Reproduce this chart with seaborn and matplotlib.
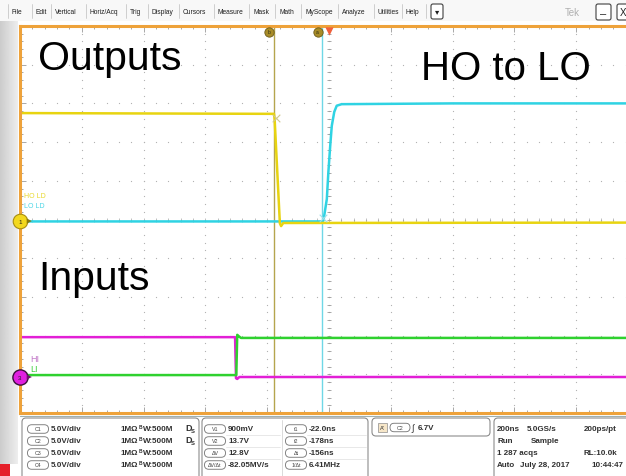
import matplotlib.pyplot as plt
import seaborn as sns
import pandas as pd
import numpy as np
from matplotlib.patches import FancyBboxPatch, Rectangle

# scope traces: time in ns (200 ns/div, trigger at 0), level in screen divisions
ho_t = [-1000, -600, -178, -176, -159, -155, -148, 1000]
ho_v = [2.75, 2.74, 2.73, 2.60, -0.10, -0.17, -0.09, -0.08]
lo_t = [-1000, -22, -18, -7, -2, 4, 9, 17, 25, 41, 400, 1000]
lo_v = [-0.05, -0.05, -0.03, 0.53, 1.23, 1.91, 2.42, 2.78, 2.94, 2.98, 3.0, 3.0]
hi_t = [-1000, -304, -301, -297, -290, 1000]
hi_v = [-3.04, -3.04, -4.10, -4.12, -4.07, -4.07]
li_t = [-1000, -300, -297, -293, -285, 1000]
li_v = [-4.02, -4.02, -2.98, -3.01, -3.06, -3.06]

cursor_t = [-178, -22]
ch_marks = ["1", "3"]
ch_levels = [-0.04, -4.07]

menu_items = ["File", "Edit", "Vertical", "Horiz/Acq", "Trig", "Display", "Cursors",
              "Measure", "Mask", "Math", "MyScope", "Analyze", "Utilities", "Help"]
menu_x = [12, 36, 55, 90, 130, 152, 183, 218, 253, 279, 305, 342, 378, 406]

chan_names = ["C1", "C2", "C3", "C4"]
chan_scale = ["5.0V/div", "5.0V/div", "5.0V/div", "5.0V/div"]
chan_ds = [True, True, False, False]
meas_a = ["V1", "V2", "ΔV", "ΔV/Δt"]
meas_a_val = ["900mV", "13.7V", "12.8V", "-82.05MV/s"]
meas_b = ["t1", "t2", "Δt", "1/Δt"]
meas_b_val = ["-22.0ns", "-178ns", "-156ns", "6.41MHz"]
acq_rows = [("200ns", "5.0GS/s", "200ps/pt"), ("Run", "Sample", ""),
            ("1 287 acqs", "", "RL:10.0k"), ("Auto", "July 28, 2017", "10:44:47")]

colors = {"HO": "#e8d410", "LO": "#2fd3e3", "HI": "#e21fd6", "LI": "#2fd12f"}

sns.set_style("white")
plt.rcParams['font.family'] = ['Liberation Sans', 'DejaVu Sans']

W, H = 626, 477
fig = plt.figure(figsize=(W / 100, H / 100), dpi=100)
fig.patch.set_facecolor("white")


def Y(py):
    return H - py


# ---- background chrome (pixel coords)
bg = fig.add_axes([0, 0, 1, 1], zorder=0)
bg.axis("off")
grad = np.linspace(0.80, 0.93, 30)[None, :]
bg.imshow(grad, extent=[0, 18, Y(465), Y(22)], aspect="auto", cmap="gray", vmin=0, vmax=1)
bg.add_patch(Rectangle((0, Y(22)), W, 22, fc="#f8f8f8", ec="none"))
bg.add_patch(Rectangle((0, 0), 10, 12, fc="#e5202a", ec="none"))
bg.plot([20, W], [Y(417), Y(417)], color="#9fb0b0", lw=0.8)

for name, x in zip(menu_items, menu_x):
    bg.text(x, Y(12), name, fontsize=4.8, va="center", ha="left", color="#202020")
    bg.plot([x - 4, x - 4], [Y(5), Y(19)], color="#c8c8c8", lw=0.6)
bg.plot([426, 426], [Y(5), Y(19)], color="#c8c8c8", lw=0.6)
bg.add_patch(FancyBboxPatch((431, Y(20)), 12, 15, boxstyle="round,pad=0,rounding_size=2",
                            fc="white", ec="#404040", lw=0.8))
bg.text(437, Y(12.5), "▾", fontsize=6, ha="center", va="center", color="#202020")
bg.text(565, Y(13), "Tek", fontsize=7, va="center", color="#b0b0b0")
bg.add_patch(FancyBboxPatch((596, Y(21)), 15, 16, boxstyle="round,pad=0,rounding_size=2",
                            fc="white", ec="#404040", lw=0.8))
bg.text(603.5, Y(14), "–", fontsize=8, ha="center", va="center", color="#202020")
bg.add_patch(FancyBboxPatch((617, Y(21)), 15, 16, boxstyle="round,pad=0,rounding_size=2",
                            fc="white", ec="#404040", lw=0.8))
bg.text(620, Y(13), "X", fontsize=7, ha="left", va="center", color="#202020")


def rbox(x0, y0, x1, y1):
    bg.add_patch(FancyBboxPatch((x0, Y(y1)), x1 - x0, y1 - y0,
                                boxstyle="round,pad=0,rounding_size=4",
                                fc="white", ec="#8c8c8c", lw=0.8))


def pill(cx, cy, w, label):
    h = 8.5
    bg.add_patch(FancyBboxPatch((cx - w / 2, Y(cy) - h / 2), w, h,
                                boxstyle="round,pad=0,rounding_size=4.2",
                                fc="white", ec="#707070", lw=0.6))
    bg.text(cx, Y(cy), label, fontsize=3.8, ha="center", va="center", color="#404040")


rows_y = [430, 442, 454, 466]
txt = dict(fontsize=5.8, fontweight="bold", va="center", color="#303030")

rbox(22, 419, 199, 490)
for i, cy in enumerate(rows_y):
    pill(38, cy, 21, chan_names[i])
    bg.text(51, Y(cy), chan_scale[i], **txt)
    bg.text(120, Y(cy), "1MΩ", **txt)
    bg.text(139, Y(cy - 2.5), "B", fontsize=3.5, va="center", color="#303030", fontweight="bold")
    bg.text(143, Y(cy), "W:500M", **txt)
    if chan_ds[i]:
        bg.text(185, Y(cy - 1), "D", fontsize=6.5, va="center", color="#303030", fontweight="bold")
        bg.text(190.5, Y(cy + 2), "S", fontsize=4.2, va="center", color="#303030", fontweight="bold")

rbox(202, 419, 368, 490)
bg.plot([282, 282], [Y(421), Y(477)], color="#d4d4d4", lw=0.6)
for cy in rows_y[:-1]:
    bg.plot([226, 280], [Y(cy + 6), Y(cy + 6)], color="#dedede", lw=0.5)
    bg.plot([307, 366], [Y(cy + 6), Y(cy + 6)], color="#dedede", lw=0.5)
for i, cy in enumerate(rows_y):
    pill(215, cy, 21, meas_a[i])
    bg.text(228, Y(cy), meas_a_val[i], **txt)
    pill(296, cy, 21, meas_b[i])
    bg.text(309, Y(cy), meas_b_val[i], **txt)

rbox(372, 419, 490, 437)
bg.add_patch(Rectangle((378, Y(433)), 9, 9, fc="#f6e6c8", ec="#8c8c8c", lw=0.5))
bg.text(382.5, Y(428.5), "A'", fontsize=4, ha="center", va="center", color="#303030")
pill(400, 428.5, 20, "C2")
bg.text(411, Y(428.5), "∫", fontsize=6.5, va="center", color="#303030")
bg.text(418, Y(428.5), "6.7V", **txt)

rbox(494, 419, 660, 490)
for (a, b, c), cy in zip(acq_rows, rows_y):
    bg.text(497, Y(cy), a, **txt)
    bg.text(527 if a == "200ns" else (531 if a == "Run" else 520), Y(cy), b, **txt)
    bg.text(584 if c != "10:44:47" else 591, Y(cy), c, **txt)

bg.set_xlim(0, W)
bg.set_ylim(0, H)

# ---- scope screen
ax = fig.add_axes([20 / W, (H - 414) / H, 618 / W, 387 / H], zorder=2)
ax.set_facecolor("white")
ax.set_xlim(-1000, 1000)
ax.set_ylim(-5, 5)
for s in ax.spines.values():
    s.set_color("#eea23a")
    s.set_linewidth(2.2)
ax.set_xticks(np.arange(-1000, 1001, 200))
ax.set_xticks(np.arange(-1000, 1001, 40), minor=True)
ax.set_yticks(np.arange(-5, 6, 1))
ax.set_yticks(np.arange(-5, 5.01, 0.2), minor=True)
ax.tick_params(which="both", direction="in", top=True, right=True, bottom=True, left=True,
               labelbottom=False, labelleft=False, color="#9a9a9a", width=0.6)
ax.tick_params(which="major", length=4)
ax.tick_params(which="minor", length=2.5)

gx_major = np.arange(-800, 801, 200)
gx_minor = np.arange(-960, 961, 40)
gy_major = np.arange(-4, 5, 1)
gy_minor = np.arange(-4.8, 4.81, 0.2)
a1, b1 = np.meshgrid(gx_major, gy_minor)
a2, b2 = np.meshgrid(gx_minor, gy_major)
ax.scatter(a1.ravel(), b1.ravel(), s=0.8, color="#b0b0b0", linewidths=0, zorder=1)
ax.scatter(a2.ravel(), b2.ravel(), s=0.8, color="#b0b0b0", linewidths=0, zorder=1)
ax.scatter(np.zeros_like(gy_minor), gy_minor, marker="_", s=10, color="#9a9a9a", linewidths=0.6, zorder=1)
ax.scatter(gx_minor, np.zeros_like(gx_minor), marker="|", s=8, color="#a8a8a8", linewidths=0.5, zorder=1)

# cursors
ax.axvline(cursor_t[0], color="#b5a54e", lw=1.0, zorder=2)
ax.axvline(cursor_t[1], color="#6fd7e6", lw=1.0, zorder=2)

df = pd.concat([
    pd.DataFrame({"t": lo_t, "v": lo_v, "ch": "LO"}),
    pd.DataFrame({"t": ho_t, "v": ho_v, "ch": "HO"}),
    pd.DataFrame({"t": hi_t, "v": hi_v, "ch": "HI"}),
    pd.DataFrame({"t": li_t, "v": li_v, "ch": "LI"}),
], ignore_index=True)
sns.lineplot(data=df, x="t", y="v", hue="ch", hue_order=["LO", "HO", "HI", "LI"],
             palette=colors, sort=False, estimator=None, legend=False, linewidth=1.8, ax=ax)
ax.set_xlabel("")
ax.set_ylabel("")

# cursor / waveform crossing marks
ax.scatter([cursor_t[0] + 5], [2.62], marker="x", s=30, color="#cfc890", linewidths=0.8, zorder=4)
ax.scatter([cursor_t[1] + 2], [0.05], marker="x", s=30, color="#9fe0ea", linewidths=0.8, zorder=4)

# cursor handles and trigger marker
ax.scatter([cursor_t[0] - 15, cursor_t[1] - 15], [4.85, 4.85], s=45, color="#a88c28",
           edgecolor="#6b5a18", linewidths=0.6, zorder=6, clip_on=False)
ax.text(cursor_t[0] - 15, 4.85, "b", fontsize=3.5, ha="center", va="center", color="#2a2a10", zorder=7)
ax.text(cursor_t[1] - 15, 4.85, "a", fontsize=3.5, ha="center", va="center", color="#2a2a10", zorder=7)
ax.scatter([0], [4.88], marker="v", s=35, color="#f0603c", linewidths=0, zorder=6, clip_on=False)

# channel ground markers
ax.scatter([-1000], [ch_levels[0]], s=110, color="#f3d81e", edgecolor="#a88e10",
           linewidths=0.8, zorder=8, clip_on=False)
ax.scatter([-1000], [ch_levels[1]], s=120, color="#e020e0", edgecolor="#3a103a",
           linewidths=1.0, zorder=8, clip_on=False)
ax.scatter([-970, -970], ch_levels, marker=">", s=14, color=["#8a7a10", "#701070"],
           linewidths=0, zorder=8, clip_on=False)
for m, lv in zip(ch_marks, ch_levels):
    ax.text(-1000, lv, m, fontsize=4.5, ha="center", va="center", color="#202020",
            zorder=9, clip_on=False)

# ---- overlay text
ov = fig.add_axes([0, 0, 1, 1], zorder=3)
ov.axis("off")
ov.patch.set_alpha(0)
ov.set_xlim(0, W)
ov.set_ylim(0, H)
ov.text(38, Y(70), "Outputs", fontsize=29.5, va="baseline", color="black")
ov.text(421, Y(80), "HO to LO", fontsize=29, va="baseline", color="black")
ov.text(38, Y(290), "Inputs", fontsize=29.5, va="baseline", color="black")
ov.text(24, Y(197), "HO LD", fontsize=5, va="center", color="#e8d82a")
ov.text(24, Y(206), "LO LD", fontsize=5, va="center", color="#4ad6e6")
ov.text(30, Y(360), "HI", fontsize=6.5, va="center", color="#c278c8")
ov.text(30, Y(370), "LI", fontsize=6.5, va="center", color="#3ccf3c")

fig.savefig("out.png", dpi=100)
